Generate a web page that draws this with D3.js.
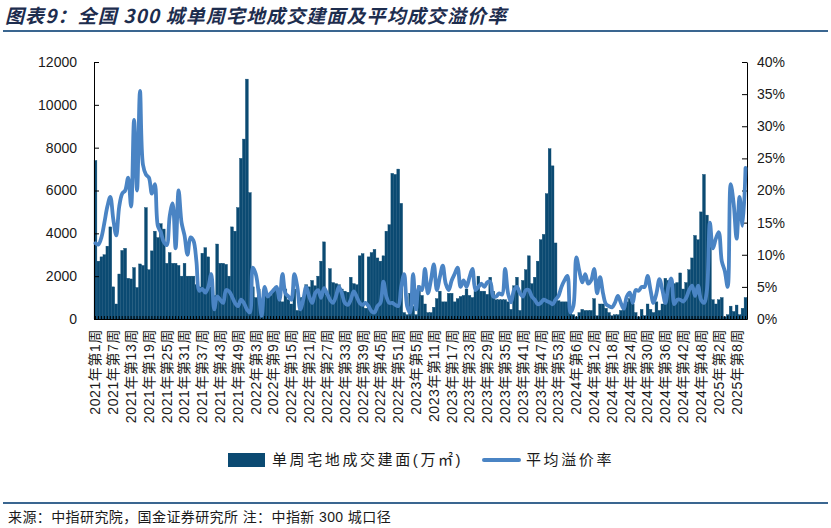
<!DOCTYPE html>
<html lang="zh">

<head>
    <meta charset="UTF-8">
    <script src="https://d3js.org/d3.v7.min.js"></script>
    <style>
        body {
            margin: 0;
            background: #fff;
        }

        svg text {
            font-family: "Liberation Sans", "Noto Sans CJK SC", sans-serif;
            fill: #1a1a1a;
        }
    </style>
    <title>300城单周宅地成交</title>
</head>

<body>
    <svg width="831" height="528"></svg>
    <script>
        // weeks per year shown on the category axis (2025 stops at week 11)
        const yearWeeks = [[2021, 52], [2022, 52], [2023, 53], [2024, 52], [2025, 11]];

        // 单周宅地成交建面 (万㎡), one value per week
        const area2021 = [7400, 2700, 2900, 3000, 3400, 4300, 1500, 700, 2100, 3200, 3300, 1900, 1870, 2400, 1470, 2570, 2500, 5200, 2300, 3180,
            4100, 3800, 4450, 4200, 2600, 3100, 2600, 2600, 2500, 2000, 2600, 2000, 2000, 2000, 1600, 1500, 3070, 3330, 2900, 1500,
            1100, 3500, 2600, 2600, 2550, 2000, 4300, 4100, 5200, 7500, 8400, 11200];
        const area2022 = [5900, 1500, 1000, 1400, 500, 1400, 1200, 1100, 1400, 1500, 900, 800, 1400, 900, 700, 1400, 400, 1000, 1000, 1600,
            1500, 1800, 1550, 2000, 2700, 3600, 1100, 2350, 1700, 1650, 1600, 1400, 1300, 1250, 1950, 1650, 1600, 2950, 3050, 500,
            2900, 3100, 3250, 2850, 2700, 2950, 4100, 4400, 6800, 6750, 7000, 5400];
        const area2023 = [300, 200, 1200, 600, 200, 1550, 1100, 700, 300, 300, 550, 950, 1300, 800, 800, 1200, 1200, 800, 950, 1050,
            1100, 1400, 1100, 1000, 1300, 2000, 1300, 1300, 1150, 1950, 1300, 900, 900, 900, 900, 800, 450, 1550, 1950, 400,
            1800, 2300, 2950, 1650, 1950, 2700, 3700, 3950, 5850, 7950, 7150, 3550, 850];
        const area2024 = [800, 800, 800, 450, 200, 100, 300, 450, 400, 400, 400, 950, 150, 700, 700, 500, 300, 150, 200, 200,
            400, 450, 800, 950, 700, 300, 100, 450, 150, 700, 450, 300, 800, 400, 700, 1900, 1800, 1750, 1650, 1700,
            2150, 1400, 1700, 2300, 2850, 3900, 3700, 5000, 6750, 4850, 4000, 900];
        const area2025 = [700, 900, 1000, 100, 200, 600, 350, 650, 200, 500, 1000];

        // 平均溢价率 (%)
        const premium2021 = [11.8, 11.6, 12.7, 15, 17.5, 19, 15.5, 13, 17.5, 19.5, 20, 22, 17.5, 31, 20, 35.5, 24, 22.5, 22, 19.5,
            21, 14.5, 13.5, 12, 11.5, 16, 18, 11, 20, 15, 13, 10, 12.7, 12.2, 9, 4.4, 4.7, 4.1, 5, 7,
            1.5, 3.5, 3, 2.5, 4.5, 4.3, 3.5, 2.5, 2, 3, 2.5, 1.5];
        const premium2022 = [1, 8, 7, 4, 0.5, 5, 3.5, 4, 4.5, 5, 3, 7, 4, 3.5, 3, 7, 5, 1.5, 3, 5,
            3.5, 2.5, 4, 4.5, 3.3, 4.8, 4, 3, 2.5, 3.5, 5, 4, 2.5, 2.2, 3, 4.3, 3.5, 2.5, 2.2, 2.5,
            2, 1.2, 1, 2, 2.5, 5.8, 3.5, 2.5, 2.5, 2.2, 2, 5];
        const premium2023 = [7, 2, 1, 7, 1.5, 5, 4.5, 7.8, 4, 6, 8.5, 4.5, 6.5, 8.3, 5.5, 4.5, 6, 7, 8, 5,
            6, 5, 6.5, 7.8, 4.5, 5, 5.5, 5, 5.7, 5.8, 3.5, 3.5, 4, 3.8, 7.8, 4, 2.6, 4.5, 5, 4,
            3.5, 4.5, 4.5, 3.5, 3, 2.3, 2.5, 3, 2.8, 2.6, 2.3, 3, 3.6];
        const premium2024 = [5, 6, 6.7, 1, 2, 9.6, 7.5, 5.7, 7, 5.5, 6, 7.8, 4, 6.5, 4, 2.3, 2, 1.8, 2.5, 3.6,
            2.5, 1.6, 3.5, 4.1, 2.5, 4.5, 4.4, 5, 5, 6.7, 4.5, 2.5, 4, 6.2, 4.5, 2.5, 5, 6.3, 2.3, 3,
            3, 2.7, 3.3, 4.5, 5.2, 3.6, 5.2, 3, 2.5, 4.5, 15, 11];
        const premium2025 = [12.5, 13.5, 9, 7.5, 5, 21, 18, 12.5, 19, 14.5, 23.5];

        // axis ticks
        const leftTicks = [0, 2000, 4000, 6000, 8000, 10000, 12000];
        const rightTicks = [0, 0.05, 0.10, 0.15, 0.20, 0.25, 0.30, 0.35, 0.40];
        const labelEvery = 6;

        const barColor = '#0b4a72';
        const lineColor = '#4a84c4';

        // build week categories like "2021年第1周"
        const weeks = [];
        yearWeeks.forEach(([yr, n]) => {
            for (let w = 1; w <= n; w++) weeks.push(`${yr}年第${w}周`);
        });
        const area = [].concat(area2021, area2022, area2023, area2024, area2025);
        const premium = [].concat(premium2021, premium2022, premium2023, premium2024, premium2025);
        const data = weeks.map((wk, i) => ({ wk, area: area[i], premium: premium[i] / 100 }));

        const svg = d3.select('svg');
        const width = +svg.attr('width'), height = +svg.attr('height');
        const plot = { left: 94, right: 747, top: 62, bottom: 319 };

        // title and the rule under it
        svg.append('text')
            .attr('x', 5).attr('y', 23)
            .style('font-family', '"Noto Sans CJK SC", sans-serif')
            .style('font-size', '19px').style('font-weight', 'bold').style('font-style', 'italic')
            .style('letter-spacing', '1.1px')
            .style('fill', '#1d2d4e')
            .text('图表9：全国 300 城单周宅地成交建面及平均成交溢价率');
        svg.append('line')
            .attr('x1', 3).attr('x2', width - 3).attr('y1', 31).attr('y2', 31)
            .attr('stroke', '#3a6690').attr('stroke-width', 2);

        // scales
        const x = d3.scaleBand().domain(weeks).range([plot.left, plot.right]).paddingInner(0.06).paddingOuter(0.03);
        const yL = d3.scaleLinear().domain([0, 12000]).range([plot.bottom, plot.top]);
        const yR = d3.scaleLinear().domain([0, 0.4]).range([plot.bottom, plot.top]);
        const cx = d => x(d.wk) + x.bandwidth() / 2;

        // bars (thin same-colour outline so the narrow bars read as solid blocks)
        svg.append('g').selectAll('rect')
            .data(data)
            .join('rect')
            .attr('x', d => x(d.wk))
            .attr('width', x.bandwidth())
            .attr('y', d => yL(d.area))
            .attr('height', d => yL(0) - yL(d.area))
            .attr('fill', barColor)
            .attr('stroke', barColor)
            .attr('stroke-width', 0.4);

        // x axis: a small inward tick per week, label every 6th week
        const xAxis = svg.append('g')
            .attr('transform', `translate(0, ${plot.bottom})`)
            .call(d3.axisBottom(x).tickSize(-3).tickSizeOuter(0).tickFormat(''));
        xAxis.select('.domain').attr('stroke', '#000');
        xAxis.selectAll('.tick line').attr('stroke', '#000');

        svg.append('g').selectAll('text')
            .data(weeks.filter((d, i) => i % labelEvery === 0))
            .join('text')
            .attr('transform', d => `translate(${x(d) + x.bandwidth() / 2}, 329) rotate(-90)`)
            .attr('text-anchor', 'end')
            .attr('dy', '0.35em')
            .style('font-size', '14px')
            .style('letter-spacing', '0.6px')
            .text(d => d);

        // left axis
        const left = svg.append('g')
            .attr('transform', `translate(${plot.left}, 0)`)
            .call(d3.axisLeft(yL).tickValues(leftTicks).tickSize(-5).tickSizeOuter(0).tickPadding(17).tickFormat(d3.format('d')));
        left.selectAll('text').style('font-size', '14px');

        // right axis
        const right = svg.append('g')
            .attr('transform', `translate(${plot.right}, 0)`)
            .call(d3.axisRight(yR).tickValues(rightTicks).tickSize(-5).tickSizeOuter(0).tickPadding(10)
                .tickFormat(d => Math.round(d * 100) + '%'));
        right.selectAll('text').style('font-size', '14px');

        [left, right].forEach(g => {
            g.select('.domain').attr('stroke', '#000');
            g.selectAll('.tick line').attr('stroke', '#000');
        });

        // premium line (smoothed like the source chart)
        const line = d3.line()
            .x(cx)
            .y(d => yR(d.premium))
            .curve(d3.curveCatmullRom.alpha(0.5));
        svg.append('path')
            .datum(data)
            .attr('d', line)
            .attr('fill', 'none')
            .attr('stroke', lineColor)
            .attr('stroke-width', 3.8)
            .attr('stroke-linejoin', 'round')
            .attr('stroke-linecap', 'round');

        // legend
        const legend = svg.append('g').attr('transform', 'translate(0, 460)');
        legend.append('rect')
            .attr('x', 228).attr('y', -7).attr('width', 37).attr('height', 14)
            .attr('fill', barColor);
        legend.append('text')
            .attr('x', 272).attr('dy', '0.35em')
            .style('font-size', '15px').style('letter-spacing', '2.6px')
            .text('单周宅地成交建面(万㎡)');
        legend.append('line')
            .attr('x1', 484).attr('x2', 519)
            .attr('stroke', lineColor).attr('stroke-width', 4).attr('stroke-linecap', 'round');
        legend.append('text')
            .attr('x', 526).attr('dy', '0.35em')
            .style('font-size', '15px').style('letter-spacing', '2.6px')
            .text('平均溢价率');

        // footer rule and source note
        svg.append('line')
            .attr('x1', 3).attr('x2', width - 3).attr('y1', 503).attr('y2', 503)
            .attr('stroke', '#3a6690').attr('stroke-width', 2);
        svg.append('text')
            .attr('x', 8).attr('y', 517).attr('dy', '0.35em')
            .style('font-size', '14px').style('letter-spacing', '0.4px')
            .text('来源：中指研究院，国金证券研究所 注：中指新 300 城口径');
    </script>
</body>

</html>
